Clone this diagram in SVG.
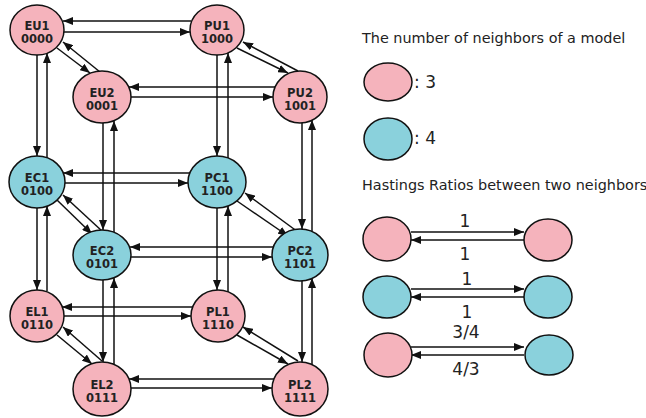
<svg xmlns="http://www.w3.org/2000/svg" width="646" height="418" viewBox="0 0 646 418">
<style>
.p{fill:#F5B3BC;stroke:#111;stroke-width:1.5}
.c{fill:#8AD1DC;stroke:#111;stroke-width:1.5}
.n{font-family:"DejaVu Sans",Verdana,sans-serif;font-weight:bold;font-size:11.5px;fill:#222;text-anchor:middle}
.l{font-family:"DejaVu Sans",Verdana,sans-serif;font-size:14.4px;fill:#222}
.b{font-family:"DejaVu Sans",Verdana,sans-serif;font-size:17px;fill:#222}
.m{font-family:"DejaVu Sans",Verdana,sans-serif;font-size:17px;fill:#222;text-anchor:middle}
#edges line{stroke:#111;stroke-width:1.5;marker-end:url(#ah)}
</style>
<defs>
<marker id="ah" markerUnits="userSpaceOnUse" markerWidth="10" markerHeight="8" refX="10" refY="4" orient="auto">
<path d="M0,0 L10,4 L0,8 z" fill="#111"/>
</marker>
</defs>
<rect width="646" height="418" fill="#fff"/>
<g id="edges">
<line x1="191" y1="21" x2="63" y2="21"/>
<line x1="64" y1="32" x2="190" y2="32"/>
<line x1="275" y1="87" x2="129" y2="87"/>
<line x1="131" y1="97" x2="273" y2="97"/>
<line x1="190" y1="173" x2="63" y2="173"/>
<line x1="65" y1="183" x2="188" y2="183"/>
<line x1="273" y1="247" x2="130" y2="247"/>
<line x1="131" y1="257" x2="272" y2="257"/>
<line x1="193" y1="307" x2="62" y2="307"/>
<line x1="64" y1="316" x2="191" y2="316"/>
<line x1="274" y1="379" x2="129" y2="379"/>
<line x1="131" y1="388" x2="272" y2="388"/>
<line x1="37" y1="55" x2="37" y2="156"/>
<line x1="47" y1="158" x2="47" y2="53"/>
<line x1="37" y1="208" x2="37" y2="290"/>
<line x1="47" y1="291" x2="47" y2="206"/>
<line x1="217" y1="55" x2="217" y2="156"/>
<line x1="228" y1="158" x2="228" y2="53"/>
<line x1="217" y1="208" x2="217" y2="290"/>
<line x1="228" y1="292" x2="228" y2="206"/>
<line x1="103" y1="123" x2="103" y2="230"/>
<line x1="114" y1="232" x2="114" y2="121"/>
<line x1="103" y1="280" x2="103" y2="362"/>
<line x1="114" y1="364" x2="114" y2="278"/>
<line x1="302" y1="123" x2="302" y2="229"/>
<line x1="312" y1="231" x2="312" y2="120"/>
<line x1="302" y1="281" x2="302" y2="362"/>
<line x1="312" y1="365" x2="312" y2="278"/>
<line x1="57" y1="48" x2="90" y2="73"/>
<line x1="100" y1="72" x2="63" y2="42"/>
<line x1="237" y1="48" x2="288" y2="73"/>
<line x1="298" y1="71" x2="243" y2="42"/>
<line x1="57" y1="200" x2="92" y2="234"/>
<line x1="102" y1="231" x2="63" y2="195"/>
<line x1="237" y1="201" x2="288" y2="236"/>
<line x1="298" y1="232" x2="245" y2="193"/>
<line x1="57" y1="335" x2="92" y2="364"/>
<line x1="102" y1="361" x2="63" y2="327"/>
<line x1="237" y1="335" x2="288" y2="364"/>
<line x1="298" y1="361" x2="243" y2="327"/>
<line x1="411" y1="232" x2="524" y2="232"/>
<line x1="524" y1="240" x2="411" y2="240"/>
<line x1="411" y1="289" x2="524" y2="289"/>
<line x1="524" y1="297" x2="411" y2="297"/>
<line x1="411" y1="347" x2="524" y2="347"/>
<line x1="524" y1="355" x2="411" y2="355"/>
</g>
<g id="EU1"><ellipse class="p" cx="37" cy="30" rx="27" ry="25"/><text class="n" x="37" y="30">EU1</text><text class="n" x="37" y="43">0000</text></g>
<g id="PU1"><ellipse class="p" cx="217" cy="30" rx="27" ry="25"/><text class="n" x="217" y="30">PU1</text><text class="n" x="217" y="43">1000</text></g>
<g id="EU2"><ellipse class="p" cx="102" cy="97" rx="29" ry="26"/><text class="n" x="102" y="97">EU2</text><text class="n" x="102" y="110">0001</text></g>
<g id="PU2"><ellipse class="p" cx="300" cy="97" rx="27" ry="26"/><text class="n" x="300" y="97">PU2</text><text class="n" x="300" y="110">1001</text></g>
<g id="EC1"><ellipse class="c" cx="37" cy="182" rx="28" ry="26"/><text class="n" x="37" y="182">EC1</text><text class="n" x="37" y="195">0100</text></g>
<g id="PC1"><ellipse class="c" cx="217" cy="182" rx="29" ry="26"/><text class="n" x="217" y="182">PC1</text><text class="n" x="217" y="195">1100</text></g>
<g id="EC2"><ellipse class="c" cx="102" cy="255" rx="29" ry="25"/><text class="n" x="102" y="255">EC2</text><text class="n" x="102" y="268">0101</text></g>
<g id="PC2"><ellipse class="c" cx="300" cy="255" rx="28" ry="26"/><text class="n" x="300" y="255">PC2</text><text class="n" x="300" y="268">1101</text></g>
<g id="EL1"><ellipse class="p" cx="37" cy="316" rx="27" ry="26"/><text class="n" x="37" y="316">EL1</text><text class="n" x="37" y="329">0110</text></g>
<g id="PL1"><ellipse class="p" cx="218" cy="316" rx="27" ry="26"/><text class="n" x="218" y="316">PL1</text><text class="n" x="218" y="329">1110</text></g>
<g id="EL2"><ellipse class="p" cx="102" cy="389" rx="29" ry="27"/><text class="n" x="102" y="389">EL2</text><text class="n" x="102" y="402">0111</text></g>
<g id="PL2"><ellipse class="p" cx="300" cy="389" rx="28" ry="27"/><text class="n" x="300" y="389">PL2</text><text class="n" x="300" y="402">1111</text></g>
<g id="legend">
<text class="l" x="362" y="43">The number of neighbors of a model</text>
<ellipse class="p" cx="388" cy="82" rx="24" ry="19"/>
<text class="b" x="414" y="88">: 3</text>
<ellipse class="c" cx="388" cy="139" rx="24" ry="21"/>
<text class="b" x="414" y="144">: 4</text>
<text class="l" x="362" y="190">Hastings Ratios between two neighbors</text>
<ellipse class="p" cx="387" cy="239" rx="24" ry="22"/>
<ellipse class="p" cx="548" cy="240" rx="24" ry="21"/>
<ellipse class="c" cx="387" cy="297" rx="24" ry="21"/>
<ellipse class="c" cx="548" cy="297" rx="24" ry="21"/>
<ellipse class="p" cx="388" cy="355" rx="24" ry="22"/>
<ellipse class="c" cx="549" cy="355" rx="24" ry="20"/>
<text class="m" x="465" y="227">1</text>
<text class="m" x="465" y="260">1</text>
<text class="m" x="467" y="285">1</text>
<text class="m" x="467" y="318">1</text>
<text class="m" x="466" y="338">3/4</text>
<text class="m" x="466" y="375">4/3</text>
</g>
</svg>
